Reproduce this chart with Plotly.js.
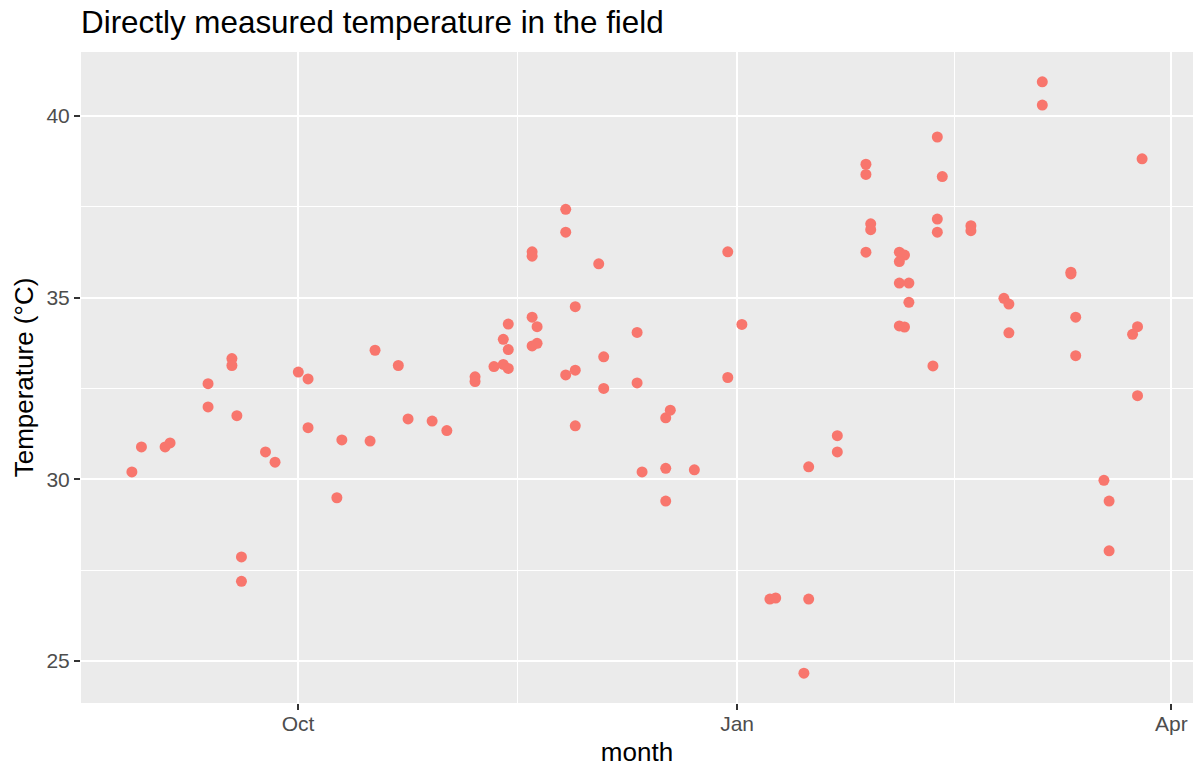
<!DOCTYPE html>
<html>
<head>
<meta charset="utf-8">
<script src="https://cdn.plot.ly/plotly-3.0.1.min.js"></script>
<style>
  html, body { margin: 0; padding: 0; background: #ffffff; }
  #chart { width: 1199px; height: 769px; }
</style>
</head>
<body>
<div id="chart"></div>
<script>
// Field measurements: sampling time and directly measured temperature (°C)
const measuredAt = [
  '2019-08-27 04:00', '2019-08-29 04:00', '2019-09-03 03:00', '2019-09-04 04:00',
  '2019-09-12 03:00', '2019-09-12 03:00', '2019-09-17 03:00', '2019-09-17 03:00',
  '2019-09-18 04:00', '2019-09-19 03:00', '2019-09-19 03:00', '2019-09-24 04:00',
  '2019-09-26 04:00', '2019-10-01 01:00', '2019-10-03 02:00', '2019-10-03 02:00',
  '2019-10-09 03:00', '2019-10-10 04:00', '2019-10-16 02:00', '2019-10-17 03:00',
  '2019-10-22 00:00', '2019-10-24 01:00', '2019-10-29 02:00', '2019-11-01 04:00',
  '2019-11-07 02:00', '2019-11-07 02:00', '2019-11-11 01:00', '2019-11-13 00:00',
  '2019-11-14 01:00', '2019-11-13 00:00', '2019-11-14 01:00', '2019-11-14 01:00',
  '2019-11-19 01:00', '2019-11-20 02:00', '2019-11-19 01:00', '2019-11-20 02:00',
  '2019-11-19 01:00', '2019-11-19 01:00', '2019-11-26 02:00', '2019-11-26 02:00',
  '2019-11-26 02:00', '2019-11-28 02:00', '2019-11-28 02:00', '2019-11-28 02:00',
  '2019-12-03 00:00', '2019-12-04 01:00', '2019-12-04 01:00', '2019-12-11 01:00',
  '2019-12-11 01:00', '2019-12-12 02:00', '2019-12-17 01:00', '2019-12-18 00:00',
  '2019-12-17 01:00', '2019-12-17 01:00', '2019-12-23 01:00', '2019-12-30 01:00',
  '2019-12-30 01:00', '2020-01-02 00:00', '2020-01-07 21:00', '2020-01-09 02:00',
  '2020-01-16 00:00', '2020-01-15 00:00', '2020-01-16 00:00', '2020-01-22 00:00',
  '2020-01-22 00:00', '2020-01-28 00:00', '2020-01-28 00:00', '2020-01-28 00:00',
  '2020-01-29 00:00', '2020-01-29 00:00', '2020-02-04 00:00', '2020-02-05 02:00',
  '2020-02-04 00:00', '2020-02-04 00:00', '2020-02-06 00:00', '2020-02-06 00:00',
  '2020-02-04 00:00', '2020-02-05 02:00', '2020-02-11 01:00', '2020-02-11 23:00',
  '2020-02-11 23:00', '2020-02-11 23:00', '2020-02-13 00:00', '2020-02-19 00:00',
  '2020-02-19 00:00', '2020-02-25 22:00', '2020-02-26 23:00', '2020-02-26 23:00',
  '2020-03-04 23:00', '2020-03-04 23:00', '2020-03-10 23:00', '2020-03-10 23:00',
  '2020-03-11 23:00', '2020-03-11 23:00', '2020-03-17 21:00', '2020-03-18 23:00',
  '2020-03-18 23:00', '2020-03-23 21:00', '2020-03-24 22:00', '2020-03-24 22:00',
  '2020-03-25 21:00'
];

const temperatureC = [
  30.20, 30.89, 30.89, 31.00,
  32.63, 31.99, 33.32, 33.13,
  31.75, 27.86, 27.19, 30.75,
  30.47, 32.95, 32.76, 31.42,
  29.49, 31.08, 31.05, 33.55,
  33.13, 31.66, 31.60, 31.34,
  32.82, 32.69, 33.10, 33.16,
  33.05, 33.85, 34.27, 33.57,
  34.46, 34.20, 33.67, 33.74,
  36.26, 36.14, 37.43, 36.80,
  32.87, 33.00, 34.75, 31.47,
  35.93, 33.37, 32.50, 34.04,
  32.65, 30.20, 31.69, 31.90,
  30.30, 29.40, 30.26, 36.26,
  32.80, 34.26, 26.70, 26.73,
  26.70, 24.66, 30.34, 31.20,
  30.75, 36.25, 38.67, 38.39,
  37.03, 36.87, 36.25, 36.17,
  35.99, 35.40, 35.40, 34.87,
  34.22, 34.19, 33.12, 39.42,
  37.16, 36.80, 38.33, 36.98,
  36.84, 34.98, 34.82, 34.03,
  40.94, 40.30, 35.70, 35.65,
  34.46, 33.40, 29.97, 29.40,
  28.03, 33.99, 34.20, 32.30,
  38.82
];

// Axis breaks and labels
const monthBreaks = ['2019-10-01', '2020-01-01', '2020-04-01'];
const monthLabels = ['Oct', 'Jan', 'Apr'];
const monthMinorBreaks = ['2019-11-16', '2020-02-15 12:00'];
const tempBreaks = [25, 30, 35, 40];

const FONT = '"Liberation Sans", Arial, Helvetica, sans-serif';

const trace = {
  type: 'scatter',
  mode: 'markers',
  x: measuredAt,
  y: temperatureC,
  marker: { color: '#F8766D', size: 11, line: { width: 0 } },
  hoverinfo: 'skip',
  showlegend: false
};

const layout = {
  width: 1199,
  height: 769,
  margin: { l: 81, r: 6, t: 52, b: 66, pad: 0 },
  paper_bgcolor: '#ffffff',
  plot_bgcolor: '#EBEBEB',
  font: { family: FONT, color: '#000000' },
  title: {
    text: 'Directly measured temperature in the field',
    font: { family: FONT, size: 31.4, color: '#000000' },
    x: 81 / 1199, xref: 'container', xanchor: 'left',
    y: 1 - 22 / 769, yref: 'container', yanchor: 'middle'
  },
  xaxis: {
    type: 'date',
    range: ['2019-08-16 12:00', '2020-04-05 13:00'],
    tickmode: 'array',
    tickvals: monthBreaks,
    ticktext: monthLabels,
    ticks: 'outside', ticklen: 6, tickwidth: 2, tickcolor: '#333333',
    ticklabelstandoff: -4,
    tickfont: { family: FONT, size: 21, color: '#4D4D4D' },
    showgrid: true, gridcolor: '#ffffff', gridwidth: 2,
    minor: { tickmode: 'array', tickvals: monthMinorBreaks, showgrid: true, gridcolor: '#ffffff', gridwidth: 1, ticks: '' },
    zeroline: false, showline: false,
    title: { text: 'month', font: { family: FONT, size: 26, color: '#000000' }, standoff: 8 },
    fixedrange: true
  },
  yaxis: {
    range: [23.84, 41.76],
    tickmode: 'array',
    tickvals: tempBreaks,
    ticks: 'outside', ticklen: 6, tickwidth: 2, tickcolor: '#333333',
    tickfont: { family: FONT, size: 21, color: '#4D4D4D' },
    showgrid: true, gridcolor: '#ffffff', gridwidth: 2,
    minor: { dtick: 2.5, tick0: 0, showgrid: true, gridcolor: '#ffffff', gridwidth: 1, ticks: '' },
    zeroline: false, showline: false,
    title: { text: 'Temperature (°C)', font: { family: FONT, size: 26, color: '#000000' }, standoff: 5 },
    fixedrange: true
  },
  hovermode: false
};

Plotly.newPlot('chart', [trace], layout, { displayModeBar: false, staticPlot: true });
</script>
</body>
</html>
